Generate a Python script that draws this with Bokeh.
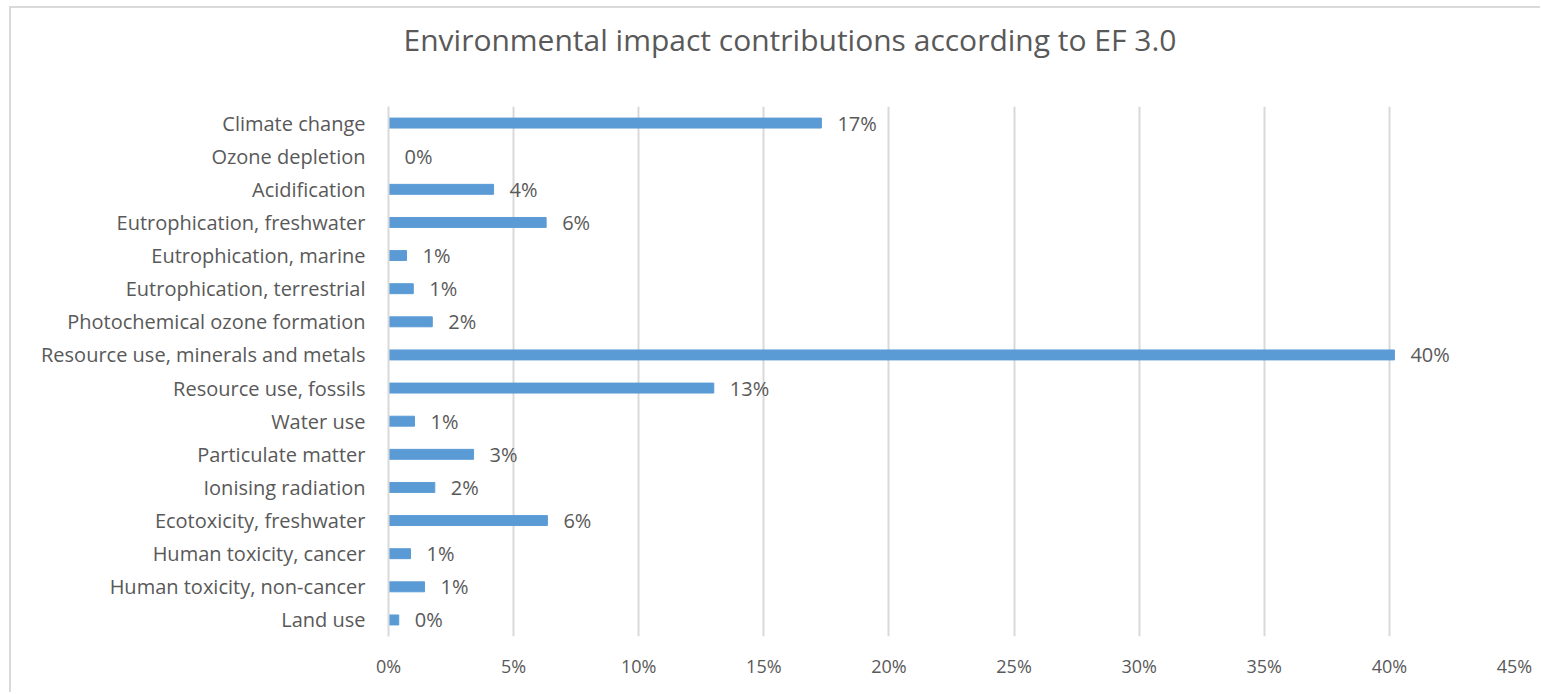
from bokeh.plotting import figure
from bokeh.models import FactorRange, Range1d, FixedTicker, NumeralTickFormatter, ColumnDataSource
from bokeh.core.properties import value
from bokeh.embed import file_html
from bokeh.resources import INLINE

title_text = "Environmental impact contributions according to EF 3.0"
categories = [
    "Climate change",
    "Ozone depletion",
    "Acidification",
    "Eutrophication, freshwater",
    "Eutrophication, marine",
    "Eutrophication, terrestrial",
    "Photochemical ozone formation",
    "Resource use, minerals and metals",
    "Resource use, fossils",
    "Water use",
    "Particulate matter",
    "Ionising radiation",
    "Ecotoxicity, freshwater",
    "Human toxicity, cancer",
    "Human toxicity, non-cancer",
    "Land use",
]
shares = [0.173, 0.0, 0.042, 0.063, 0.0072, 0.0099, 0.0175, 0.402, 0.130, 0.0104,
          0.034, 0.0185, 0.0635, 0.0088, 0.0144, 0.0041]
share_labels = ["17%", "0%", "4%", "6%", "1%", "1%", "2%", "40%", "13%", "1%",
                "3%", "2%", "6%", "1%", "1%", "0%"]
x_ticks = [0.0, 0.05, 0.10, 0.15, 0.20, 0.25, 0.30, 0.35, 0.40, 0.45]

FONT = "Open Sans"
TXT = "#595959"
GRID = "#d9d9d9"

src = ColumnDataSource(dict(cat=categories, val=shares, lab=share_labels))

p = figure(width=1531, height=686, output_backend="svg", toolbar_location=None,
           y_range=FactorRange(factors=categories[::-1]),
           x_range=Range1d(0, 0.45),
           min_border_left=377, min_border_right=28, min_border_top=98, min_border_bottom=58,
           title=title_text + "\n")
p.margin = (6, 0, 0, 9)
p.styles = {"border-top": "2px solid #d9d9d9", "border-left": "2px solid #d9d9d9",
            "border-right": "none", "overflow": "hidden"}
p.outline_line_color = None
p.background_fill_color = "white"
p.border_fill_color = "white"

p.title.align = "left"
p.title.offset = 15
p.title.standoff = 12
p.title.text_font = FONT
p.title.text_font_size = "30px"
p.title.text_font_style = "normal"
p.title.text_color = TXT

p.hbar(y="cat", right="val", left=0, height=0.3, source=src, color="#5B9BD5")
p.text(x="val", y="cat", text="lab", source=src, x_offset=16, text_baseline="middle",
       text_align="left", text_font=value(FONT), text_font_size="20px", text_color=TXT)

p.xaxis.ticker = FixedTicker(ticks=x_ticks)
p.xaxis.formatter = NumeralTickFormatter(format="0%")
p.xaxis.axis_line_color = None
p.xaxis.major_tick_line_color = None
p.xaxis.minor_tick_line_color = None
p.xaxis.major_label_standoff = 11
p.xaxis.major_label_text_font = FONT
p.xaxis.major_label_text_font_size = "18px"
p.xaxis.major_label_text_color = TXT

p.yaxis.axis_line_color = GRID
p.yaxis.axis_line_width = 2
p.yaxis.major_tick_line_color = None
p.yaxis.minor_tick_line_color = None
p.yaxis.major_label_standoff = 17
p.yaxis.major_label_text_font = FONT
p.yaxis.major_label_text_font_size = "20px"
p.yaxis.major_label_text_color = TXT

p.xgrid.grid_line_color = GRID
p.xgrid.grid_line_width = 2
p.ygrid.grid_line_color = None

open("out.html", "w").write(file_html(p, INLINE))
